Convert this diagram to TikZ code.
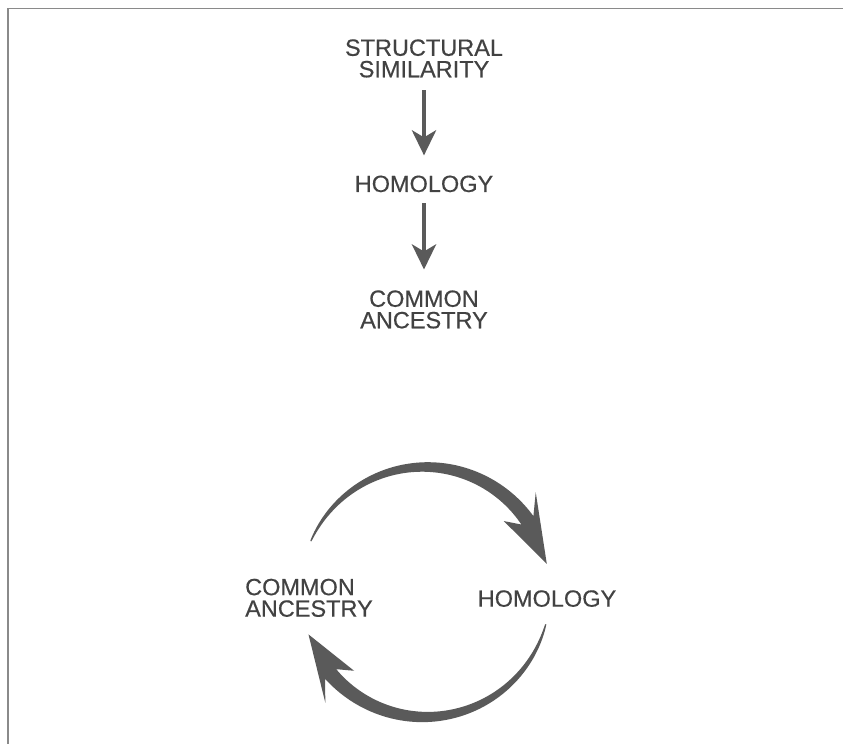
\documentclass[tikz,border=0pt]{standalone}
\usepackage{fontspec}
\setmainfont{Liberation Sans}[FakeBold=0.4]
\usetikzlibrary{arrows.meta}
\definecolor{txtgray}{HTML}{424242}
\definecolor{arrgray}{HTML}{5A5A5A}
\definecolor{framegray}{HTML}{8A8A8A}
\begin{document}
\begin{tikzpicture}[x=1pt,y=1pt,
  lbl/.style={font=\fontsize{23.5}{21.5}\selectfont, text=txtgray, inner sep=0pt, align=center},
  downarrow/.style={draw=arrgray, line width=4.5pt, -{Stealth[length=25pt,width=24pt,inset=7pt]}},
  arrfill/.style={fill=arrgray}]
\useasboundingbox (0,0) rectangle (843,744);
\fill[white] (0,0) rectangle (843,744);
% frame (top and left only)
\draw[framegray, line width=1.6pt] (843,735.5) -- (8,735.5) -- (8,0);

% upper chain (base anchor = baseline of last line)
\node[lbl, anchor=base] (ss) at (424,666.7) {STRUCTURAL\\SIMILARITY};
\node[lbl, anchor=base] (h1) at (424,552) {HOMOLOGY};
\node[lbl, anchor=base] (ca1) at (424,415.7) {COMMON\\ANCESTRY};
\draw[downarrow, shorten <=12.7pt, shorten >=20pt] (ss.south) -- (h1.north);
\draw[downarrow, shorten <=11pt, shorten >=20.7pt] (h1.south) -- (ca1.north);

% lower cycle
\node[lbl, anchor=base west, align=left] (ca2) at (245,127.3) {COMMON\\ANCESTRY};
\node[lbl, anchor=base] (h2) at (547,137.3) {HOMOLOGY};
\coordinate (C) at (425,152);
\begin{scope}[shift={(C)}]
  % top arc: from common ancestry to homology
  \fill[arrfill] plot[domain=156:35,samples=80] (\x:{125+0.5*(1.2+13.5*((abs(156-\x)+0.01)/121)^0.8)})
    -- (42:149) -- (13:125) -- (42:106)
    -- plot[domain=35:156,samples=80] (\x:{125-0.5*(1.2+13.5*((abs(156-\x)+0.01)/121)^0.8)}) -- cycle;
  % bottom arc: from homology to common ancestry
  \fill[arrfill] plot[domain=-15:-139,samples=80] (\x:{125+0.5*(1.2+13.5*((abs(-15-\x)+0.01)/124)^0.8)})
    -- (-132:149) -- (-160:124) -- (-132:106)
    -- plot[domain=-139:-15,samples=80] (\x:{125-0.5*(1.2+13.5*((abs(-15-\x)+0.01)/124)^0.8)}) -- cycle;
\end{scope}
\end{tikzpicture}
\end{document}
